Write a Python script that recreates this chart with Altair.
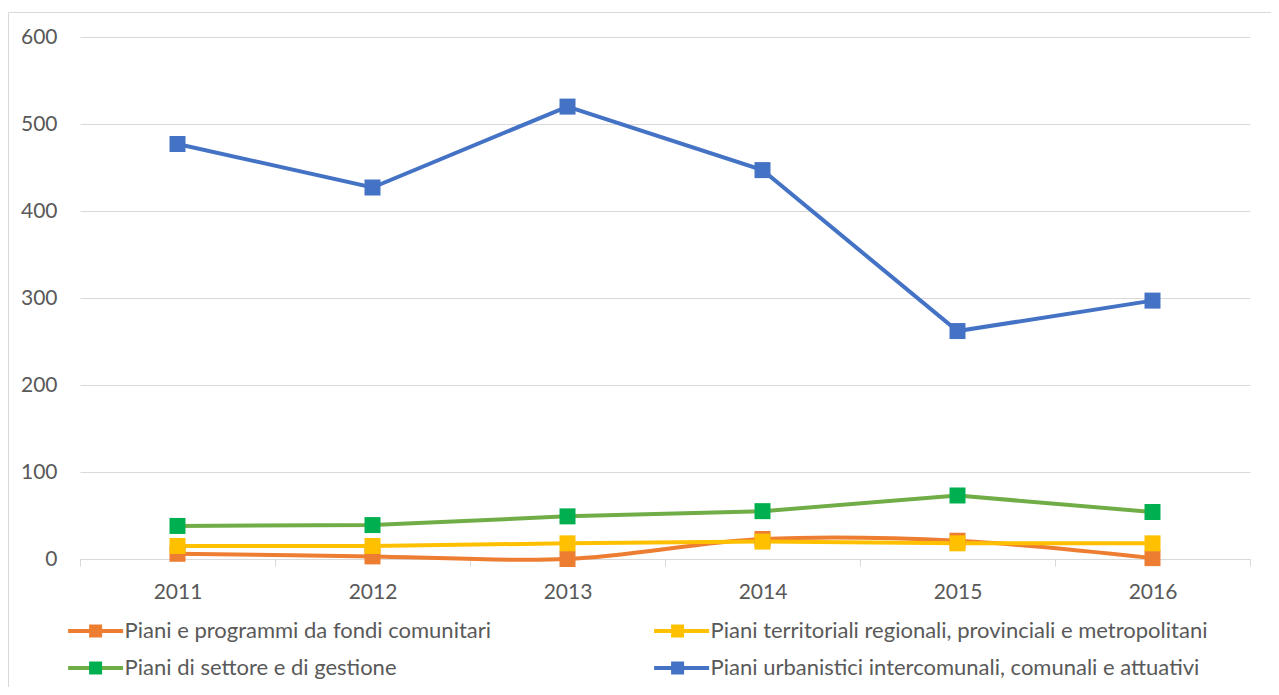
import altair as alt
import pandas as pd

anni = ["2011", "2012", "2013", "2014", "2015", "2016"]
serie = [
    "Piani e programmi da fondi comunitari",
    "Piani territoriali regionali, provinciali e metropolitani",
    "Piani di settore e di gestione",
    "Piani urbanistici intercomunali, comunali e attuativi",
]
fondi_comunitari = [6, 3, 0, 23, 21, 1]
territoriali = [15, 15, 18, 20, 18, 18]
settore_gestione = [38, 39, 49, 55, 73, 54]
urbanistici = [477, 427, 520, 447, 262, 297]

colori_linea = ["#ED7D31", "#FFC000", "#70AD47", "#4472C4"]
colori_marker = ["#ED7D31", "#FFC000", "#00B050", "#4472C4"]

rows = []
for s, vals in zip(serie, [fondi_comunitari, territoriali, settore_gestione, urbanistici]):
    for a, v in zip(anni, vals):
        rows.append({"anno": a, "serie": s, "serie_m": s + " ", "valore": v})
df = pd.DataFrame(rows)

FONT = "Lato"
TXT = "#595959"
GRID = "#D9D9D9"

x_enc = alt.X(
    "anno:O",
    scale=alt.Scale(type="band", paddingInner=0, paddingOuter=0),
    axis=alt.Axis(
        title=None, labelAngle=0, tickBand="extent", grid=False,
        domainColor=GRID, domainWidth=1, tickColor=GRID, tickSize=7, tickWidth=1,
        labelFont=FONT, labelFontSize=21, labelColor=TXT, labelPadding=15,
    ),
)
y_enc = alt.Y(
    "valore:Q",
    scale=alt.Scale(domain=[0, 600], nice=False),
    axis=alt.Axis(
        title=None, values=[0, 100, 200, 300, 400, 500, 600], domain=False, ticks=False,
        gridColor=GRID, gridWidth=1, labelPadding=23,
        labelFont=FONT, labelFontSize=21, labelColor=TXT,
    ),
)

legend_common = dict(
    orient="none", legendX=-16, legendY=583, columns=2, direction="horizontal", title=None,
    symbolSize=189, symbolOffset=20.6, labelOffset=18, padding=0,
    labelFont=FONT, labelFontSize=22, labelColor=TXT, labelLimit=0,
    columnPadding=154, rowPadding=15,
)

color_enc = alt.Color(
    "serie:N",
    scale=alt.Scale(domain=serie, range=colori_linea),
    legend=alt.Legend(symbolType="M-4,0H4", symbolStrokeWidth=4, **legend_common),
)
fill_enc = alt.Fill(
    "serie_m:N",
    scale=alt.Scale(domain=[s + " " for s in serie], range=colori_marker),
    legend=alt.Legend(
        symbolType="M-0.945,-0.945H0.945V0.945H-0.945Z", symbolStrokeWidth=0,
        labelOpacity=0, labelExpr="trim(datum.label)", **legend_common
    ),
)

base = alt.Chart(df)

frame = alt.Chart(pd.DataFrame({"k": [0]})).mark_rect(
    fill="transparent", stroke=GRID, strokeWidth=1
).encode(x=alt.value(-71.5), x2=alt.value(1400), y=alt.value(-24.5), y2=alt.value(900))

lines = base.transform_filter(alt.datum.serie != serie[0]).mark_line(strokeWidth=4).encode(
    x=x_enc, y=y_enc, color=color_enc
)
smooth = base.transform_filter(alt.datum.serie == serie[0]).mark_line(
    strokeWidth=4, interpolate="cardinal"
).encode(x=x_enc, y=y_enc, color=color_enc)
points = base.mark_square(size=256, opacity=1, strokeWidth=0).encode(
    x=x_enc, y=y_enc, fill=fill_enc
)

chart = alt.layer(frame, smooth, lines, points).properties(
    width=1170, height=522,
    autosize=alt.AutoSizeParams(type="none"),
    padding={"left": 72, "top": 29, "right": 21, "bottom": 128},
).configure_view(stroke=None)

chart.save("out.html", embed_options={"renderer": "svg", "actions": False})
